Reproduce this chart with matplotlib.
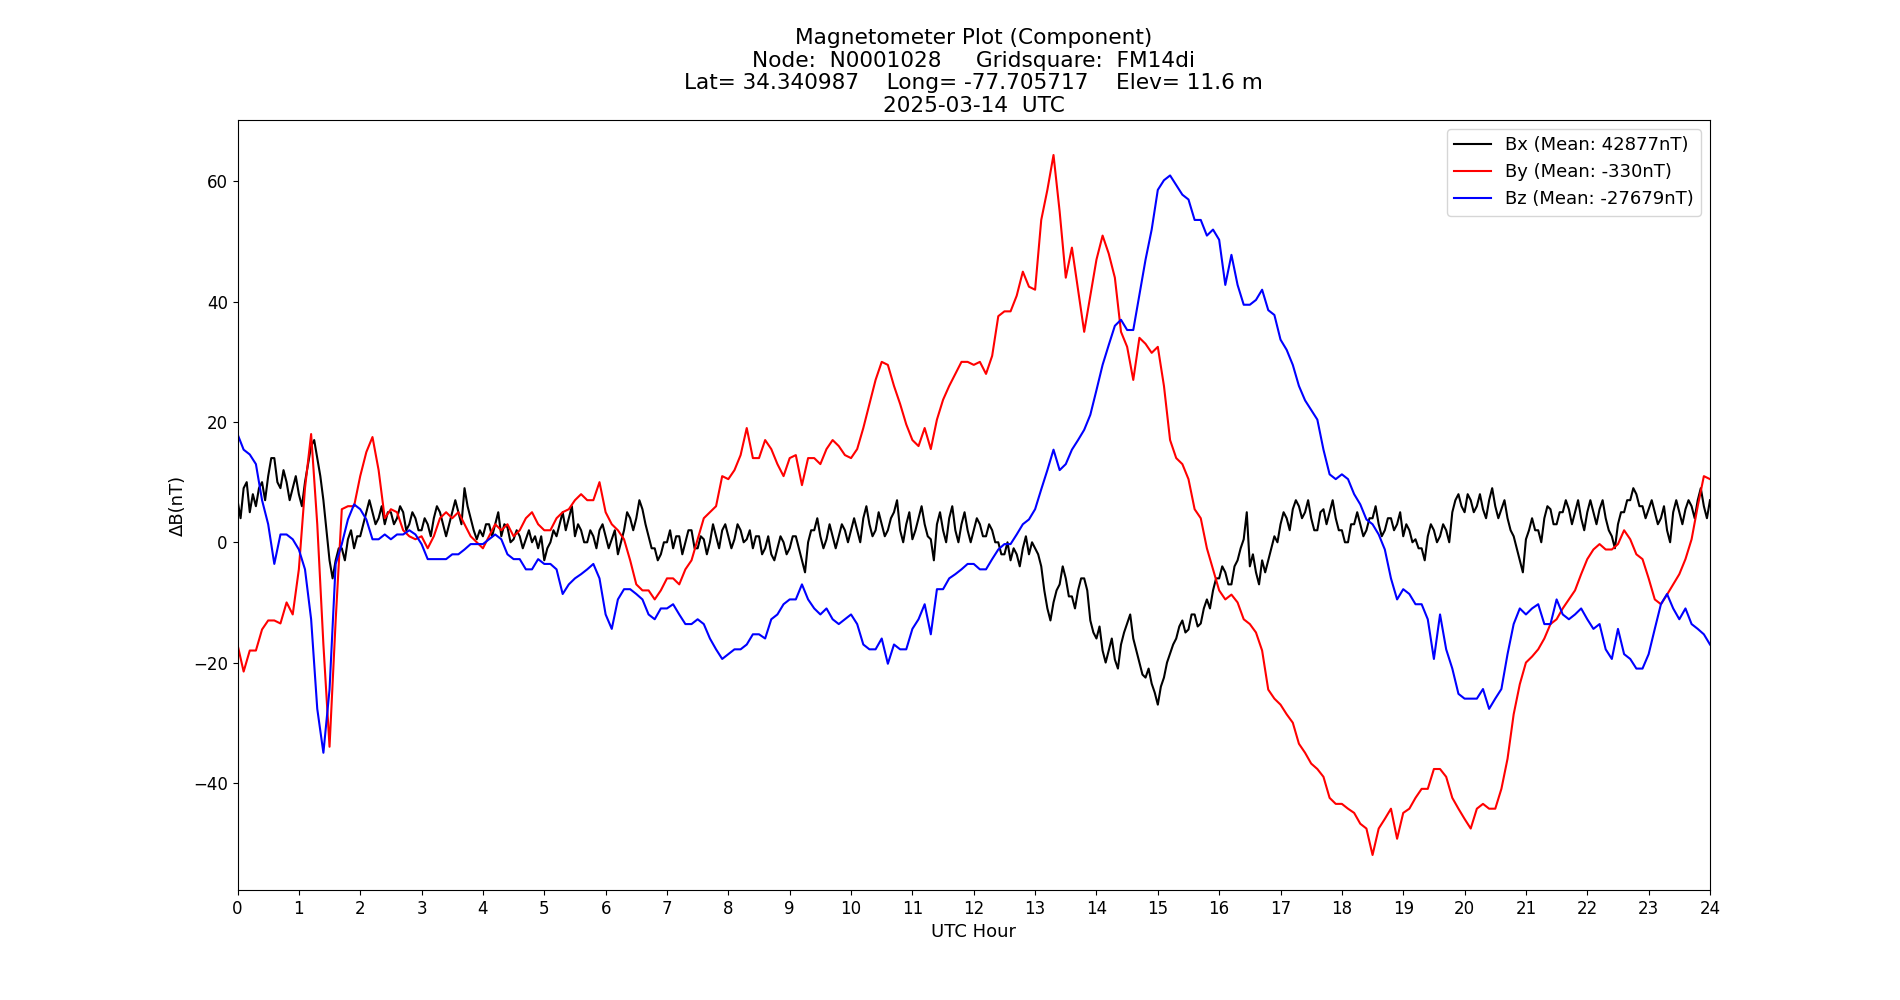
import numpy as np
import matplotlib
matplotlib.use('Agg')
import matplotlib.pyplot as plt

plt.rcParams['font.family'] = ['DejaVu Sans']
plt.rcParams['font.size'] = 13
plt.rcParams['xtick.labelsize'] = 12
plt.rcParams['ytick.labelsize'] = 12

# time grids (hours); Bx is noisier so it is read at a finer step
hours_x = np.linspace(0, 24, 481)
hours = np.linspace(0, 24, 241)

bx = [
    7, 4, 9, 10, 5, 8, 6, 9, 10, 7, 11, 14, 14, 10, 9, 12, 10, 7, 9, 11,
    8, 6, 10, 13, 16, 17, 14, 11, 7, 2, -3, -6, -3, -1, -1, -3, 0.5, 2, -1, 1,
    1, 3, 5, 7, 5, 3, 4, 6, 3, 5, 5, 3, 4, 6, 5, 2, 3, 5, 4, 2,
    2, 4, 3, 1, 4, 6, 5, 3, 1, 3, 5, 7, 5, 3, 9, 6, 4, 2, 0.5, 2,
    1, 3, 3, 1, 3, 5, 1, 3, 2.5, 0, 0.5, 2, 1, -1, 0.5, 2, 0, 1, -1, 1,
    -3, -1, 0, 2, 1, 3, 5, 2, 4, 6, 1, 3, 2, 0, 0, 2, 1, -1, 2, 3,
    1, -1, 0.5, 2, -2, 0, 2, 5, 4, 2, 4, 7, 5.5, 3, 1, -1, -1, -3, -2, 0,
    0, 2, -1, 1, 1, -2, 0, 2, 2, -1, -1, 1, 0.5, -2, 0, 3, 1, -1, 2, 3,
    1, -1, 0.5, 3, 2, 0, 0.5, 2, -1, 1, 1, -2, -1, 1, -2, -3, -1, 1, 0, -2,
    -1, 1, 1, -1, -3, -5, 0, 2, 2, 4, 1, -1, 0.5, 3, 1, -1, 1, 3, 2, 0,
    2, 4, 2, 0, 4, 6, 3, 1, 2, 5, 3, 1, 2, 4, 5, 7, 2, 0, 3, 5,
    0.5, 2, 4, 6, 3, 1, 0.5, -3, 3, 5, 2, 0, 4, 6, 2, 0, 3, 5, 2, 0,
    2, 4, 3, 1, 1, 3, 2, 0, 0, -2, -2, 0, -3, -1, -2, -4, -1, 1, -2, 0,
    -1, -2, -4, -8, -11, -13, -10, -8, -7, -4, -6, -9, -9, -11, -8, -6, -6, -8, -13, -15,
    -16, -14, -18, -20, -18, -16, -19.5, -21, -17, -15, -13.5, -12, -16, -18, -20, -22, -22.5, -21, -23.5, -25,
    -27, -24, -22.5, -20, -18.5, -17, -16, -14, -13, -15, -14.5, -12, -12, -14, -13.5, -11, -9.5, -11, -8, -6,
    -6, -4, -5, -7, -7, -4, -3, -1, 0.5, 5, -4, -2, -5, -7, -3, -5, -3, -1, 1, 0,
    3, 5, 4, 2, 5.5, 7, 6, 4, 5, 7, 4, 2, 2, 5, 5.5, 3, 5, 7, 4, 2,
    2, 0, 0, 3, 3, 5, 3, 1, 2, 4, 4, 6, 3, 1, 2, 4, 4, 2, 3, 5,
    1, 3, 2, 0, 0.5, -1, -1, -3, 1, 3, 2, 0, 1, 3, 2, 0, 5, 7, 8, 6,
    5, 8, 7, 5, 6, 8, 5.5, 4, 7, 9, 6, 4, 5.5, 7, 4, 2, 1, -1, -3, -5,
    0.5, 2, 4, 2, 2, 0, 4, 6, 5.5, 3, 3, 5, 5, 7, 5.5, 3, 5, 7, 4, 2,
    5, 7, 5, 3, 5.5, 7, 4, 2, 1, -1, 3, 5, 5, 7, 7, 9, 8, 6, 6, 4,
    5.5, 7, 5, 3, 4, 6, 2, 0, 5, 7, 5, 3, 5.5, 7, 6, 4, 7, 9, 6, 4,
    7,
]

by = [
    -17, -21.5, -18, -18, -14.5, -13, -13, -13.5, -10, -12,
    -4.5, 9, 18, 3, -17, -34, -13, 5.5, 6, 6,
    11, 15, 17.5, 12, 4, 5.5, 5, 2, 1, 0.5,
    1, -1, 1, 4, 5, 4, 5, 3, 1, 0,
    -1, 1, 3, 2, 3, 1, 2, 4, 5, 3,
    2, 2, 4, 5, 5.5, 7, 8, 7, 7, 10,
    5, 3, 2, 0.5, -3, -7, -8, -8, -9.5, -8,
    -6, -6, -7, -4.5, -3, 0.5, 4, 5, 6, 11,
    10.5, 12, 14.5, 19, 14, 14, 17, 15.5, 13, 11,
    14, 14.5, 9.5, 14, 14, 13, 15.5, 17, 16, 14.5,
    14, 15.5, 19, 23, 27, 30, 29.5, 26, 23, 19.6,
    17, 16, 19, 15.5, 20.4, 23.7, 26, 28, 30, 30,
    29.5, 30, 28, 31, 37.6, 38.4, 38.4, 41, 45, 42.5,
    42, 53.6, 58.6, 64.4, 55, 44, 49, 42, 35, 41,
    47, 51, 48, 44, 35, 32.5, 27, 34, 33, 31.5,
    32.5, 26, 17, 14, 13, 10.5, 5.5, 4, -1, -4.5,
    -8, -9.5, -8.7, -10, -12.8, -13.6, -15, -18, -24.5, -26,
    -27, -28.6, -30, -33.5, -35, -36.8, -37.7, -39, -42.5, -43.5,
    -43.5, -44.3, -45, -46.8, -47.6, -52, -47.6, -46, -44.3, -49.3,
    -45, -44.3, -42.5, -41, -41, -37.7, -37.7, -39, -42.5, -44.3,
    -46, -47.6, -44.3, -43.5, -44.3, -44.3, -41, -36, -28.6, -23.6,
    -20, -19, -17.8, -16, -13.6, -12.8, -11, -9.5, -8, -5.3,
    -2.8, -1.2, -0.3, -1.2, -1.2, -0.3, 2, 0.5, -2, -2.8,
    -6, -9.5, -10.3, -8.7, -7, -5.3, -2.8, 0.5, 6, 11,
    10.5,
]

bz = [
    18, 15.4, 14.6, 13, 7, 3, -3.6, 1.3, 1.3, 0.5,
    -1.2, -4.5, -12.8, -27.7, -35, -24.5, -3.6, -0.3, 3.8, 6.3,
    5.5, 3.8, 0.5, 0.5, 1.3, 0.5, 1.3, 1.3, 2, 1.3,
    -0.3, -2.8, -2.8, -2.8, -2.8, -2, -2, -1.2, -0.3, -0.3,
    -0.3, 0.5, 1.3, 0.5, -2, -2.8, -2.8, -4.5, -4.5, -2.8,
    -3.6, -3.6, -4.5, -8.6, -7, -6, -5.3, -4.5, -3.6, -6,
    -12, -14.4, -9.5, -7.8, -7.8, -8.6, -9.5, -12, -12.8, -11,
    -11, -10.3, -12, -13.6, -13.6, -12.8, -13.6, -16, -17.8, -19.4,
    -18.6, -17.8, -17.8, -17, -15.3, -15.3, -16, -12.8, -12, -10.3,
    -9.5, -9.5, -7, -9.5, -11, -12, -11, -12.8, -13.6, -12.8,
    -12, -13.6, -17, -17.8, -17.8, -16, -20.2, -17, -17.8, -17.8,
    -14.4, -12.8, -10.3, -15.3, -7.8, -7.8, -6, -5.3, -4.5, -3.6,
    -3.6, -4.5, -4.5, -2.8, -1.2, -0.3, -0.3, 1.3, 3, 3.8,
    5.5, 8.8, 12, 15.4, 12, 13, 15.4, 17, 18.7, 21.2,
    25.3, 29.5, 32.8, 36, 37, 35.3, 35.3, 41.2, 47, 52,
    58.6, 60.2, 61, 59.4, 57.8, 57, 53.6, 53.6, 51, 52,
    50.3, 42.8, 47.8, 42.8, 39.5, 39.5, 40.3, 42, 38.6, 37.8,
    33.7, 32, 29.5, 26, 23.6, 22, 20.4, 15.4, 11.3, 10.5,
    11.3, 10.5, 8, 6.3, 3.8, 3, 1.3, -1.2, -6, -9.5,
    -7.8, -8.6, -10.3, -10.3, -12.8, -19.4, -12, -17.8, -21, -25.2,
    -26, -26, -26, -24.4, -27.7, -26, -24.4, -18.6, -13.6, -11,
    -12, -11, -10.3, -13.6, -13.6, -9.5, -12, -12.8, -12, -11,
    -12.8, -14.4, -13.6, -17.8, -19.4, -14.4, -18.6, -19.4, -21, -21,
    -18.6, -14.4, -10.3, -8.6, -11, -12.8, -11, -13.6, -14.4, -15.3,
    -17,
]

labels = ['Bx (Mean: 42877nT)', 'By (Mean: -330nT)', 'Bz (Mean: -27679nT)']

fig, ax = plt.subplots(figsize=(19, 10), dpi=100)

ax.plot(hours_x, bx, color='black', linewidth=1.5, label=labels[0])
ax.plot(hours, by, color='red', linewidth=1.5, label=labels[1])
ax.plot(hours, bz, color='blue', linewidth=1.5, label=labels[2])

ax.set_xlim(0, 24)
ax.set_xticks(range(0, 25))
ax.set_xlabel('UTC Hour')
ax.set_ylabel('ΔB(nT)')

ax.set_title('Magnetometer Plot (Component)\n'
             'Node:  N0001028     Gridsquare:  FM14di\n'
             'Lat= 34.340987    Long= -77.705717    Elev= 11.6 m\n'
             '2025-03-14  UTC', fontsize=15.6, linespacing=1.15)

ax.legend(loc='upper right')

plt.savefig('out.png')
